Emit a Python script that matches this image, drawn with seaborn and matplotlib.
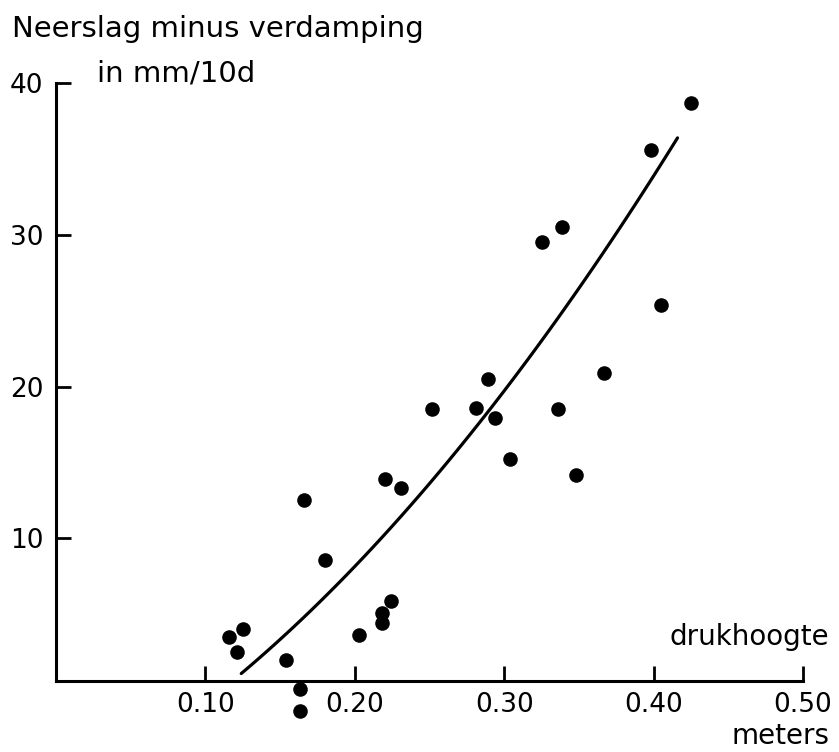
import matplotlib
matplotlib.use("Agg")
import matplotlib.pyplot as plt
import seaborn as sns
import pandas as pd

# --- data ---
drukhoogte = [0.116, 0.121, 0.125, 0.154, 0.163, 0.163, 0.166, 0.180, 0.203,
              0.218, 0.218, 0.224, 0.220, 0.231, 0.252, 0.281, 0.289, 0.294,
              0.304, 0.325, 0.339, 0.336, 0.348, 0.367, 0.398, 0.405, 0.425]
neerslag = [3.5, 2.5, 4.0, 2.0, 0.1, -1.4, 12.5, 8.6, 3.6,
            4.4, 5.1, 5.9, 13.9, 13.3, 18.5, 18.6, 20.5, 17.9,
            15.2, 29.5, 30.5, 18.5, 14.2, 20.9, 35.6, 25.4, 38.7]

# points
curve_x = [0.124, 0.177, 0.199, 0.212, 0.257, 0.305, 0.363, 0.389, 0.416]
curve_y = [1.2, 5.9, 8.1, 9.0, 14.4, 20.6, 28.4, 32.3, 36.2]

xticks = [0.10, 0.20, 0.30, 0.40, 0.50]
xtick_labels = ["0.10", "0.20", "0.30", "0.40", "0.50"]
yticks = [10, 20, 30, 40]
ytick_labels = ["10", "20", "30", "40"]

pts = pd.DataFrame({"x": drukhoogte, "y": neerslag})
crv = pd.DataFrame({"x": curve_x, "y": curve_y})

sns.set_theme(style="ticks")
plt.rcParams["font.family"] = ["DejaVu Sans"]

fig = plt.figure(figsize=(8.39, 7.52), dpi=100)
ax = fig.add_axes([56 / 839, 1 - 681 / 752, (803 - 56) / 839, (681 - 83) / 752])

sns.regplot(data=crv, x="x", y="y", order=2, scatter=False, ci=None,
            truncate=True, color="black", line_kws={"linewidth": 2.3},
            ax=ax)
sns.scatterplot(data=pts, x="x", y="y", color="black", s=110,
                edgecolor="black", linewidth=0, clip_on=False, zorder=5, ax=ax)

ax.set_xlim(0, 0.5)
ax.set_ylim(0.6, 40)
ax.set_xticks(xticks)
ax.set_xticklabels(xtick_labels)
ax.set_yticks(yticks)
ax.set_yticklabels(ytick_labels)
ax.set_xlabel("")
ax.set_ylabel("")

for side in ["top", "right"]:
    ax.spines[side].set_visible(False)
for side in ["left", "bottom"]:
    ax.spines[side].set_color("black")
    ax.spines[side].set_linewidth(2.2)

ax.tick_params(axis="both", which="major", direction="in", length=11,
               width=2.0, color="black", labelsize=19, labelcolor="black",
               bottom=True, left=True, top=False, right=False)
ax.tick_params(axis="x", pad=8)
ax.tick_params(axis="y", pad=9)
ax.set_facecolor("white")

fig.text(12 / 839, 1 - 37 / 752, "Neerslag minus verdamping",
         fontsize=21, ha="left", va="baseline", color="black")
fig.text(97 / 839, 1 - 82 / 752, "in mm/10d",
         fontsize=21, ha="left", va="baseline", color="black")
fig.text(829 / 839, 1 - 645 / 752, "drukhoogte",
         fontsize=20, ha="right", va="baseline", color="black")
fig.text(830 / 839, 1 - 744 / 752, "meters",
         fontsize=20, ha="right", va="baseline", color="black")

fig.savefig("out.png", dpi=100, facecolor="white")
